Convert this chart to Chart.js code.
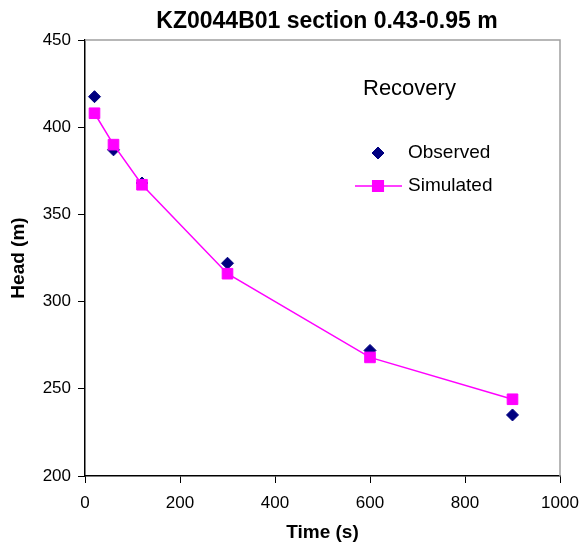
<!DOCTYPE html>
<html>
<head>
<meta charset="utf-8">
<script src="https://cdn.jsdelivr.net/npm/chart.js@4/dist/chart.umd.min.js"></script>
<style>
  html, body { margin: 0; padding: 0; background: #fff; }
  #wrap { width: 584px; height: 546px; }
</style>
</head>
<body>
<div id="wrap"><canvas id="myChart" width="584" height="546"></canvas></div>
<script>
// values
var timeS     = [20, 60, 120, 300, 600, 900];
var observed  = [417.5, 387, 368, 322, 272, 235];
var simulated = [408, 390, 367, 316, 268, 244];
var yTicks    = [200, 250, 300, 350, 400, 450];
var xTicks    = [0, 200, 400, 600, 800, 1000];

var chartTitle = 'KZ0044B01 section 0.43-0.95 m';
var legendTitle = 'Recovery';

var NAVY = '#000080';
var MAGENTA = '#FF00FF';
var FONT = "'Liberation Sans', Arial, sans-serif";

function toPoints(xs, ys) {
	return xs.map(function(x, i) { return {x: x, y: ys[i]}; });
}

// grey frame on top/right, title and the in-plot legend
var extras = {
	id: 'extras',
	beforeDatasetsDraw: function(chart) {
		var a = chart.chartArea, ctx = chart.ctx;
		ctx.save();
		ctx.strokeStyle = '#a0a0a0';
		ctx.lineWidth = 1.5;
		ctx.beginPath();
		ctx.moveTo(a.left, a.top);
		ctx.lineTo(a.right, a.top);
		ctx.lineTo(a.right, a.bottom);
		ctx.stroke();
		ctx.restore();
	},
	afterDraw: function(chart) {
		var ctx = chart.ctx;
		ctx.save();
		ctx.fillStyle = '#000';
		ctx.textBaseline = 'middle';
		ctx.textAlign = 'center';
		ctx.font = 'bold 23px ' + FONT;
		ctx.fillText(chartTitle, 327, 22);

		ctx.textAlign = 'left';
		ctx.font = '22px ' + FONT;
		ctx.fillText(legendTitle, 363, 89);

		ctx.font = '19px ' + FONT;
		var items = chart.data.datasets;
		var rows = [153, 186];
		items.forEach(function(ds, i) {
			var y = rows[i];
			if (ds.showLine) {
				ctx.strokeStyle = ds.borderColor;
				ctx.lineWidth = ds.borderWidth;
				ctx.beginPath();
				ctx.moveTo(355, y);
				ctx.lineTo(402, y);
				ctx.stroke();
			}
			Chart.helpers.drawPoint(ctx, {
				pointStyle: ds.pointStyle,
				radius: ds.pointRadius,
				rotation: 0,
				borderWidth: 1
			}, 378, y);
			ctx.fillStyle = ds.pointBackgroundColor;
			ctx.strokeStyle = ds.pointBorderColor;
			ctx.lineWidth = 1;
			ctx.fill();
			ctx.stroke();
			ctx.fillStyle = '#000';
			ctx.fillText(ds.label, 408, y);
		});
		ctx.restore();
	}
};

var ctx = document.getElementById('myChart');
var myChart = new Chart(ctx, {
	type: 'scatter',
	data: {
		datasets: [
			{
				label: 'Observed',
				data: toPoints(timeS, observed),
				showLine: false,
				pointStyle: 'rectRot',
				pointRadius: 6,
				pointBackgroundColor: NAVY,
				pointBorderColor: NAVY,
				pointBorderWidth: 1,
				order: 2
			},
			{
				label: 'Simulated',
				data: toPoints(timeS, simulated),
				showLine: true,
				borderColor: MAGENTA,
				borderWidth: 1.5,
				pointStyle: 'rect',
				pointRadius: 7.5,
				pointBackgroundColor: MAGENTA,
				pointBorderColor: MAGENTA,
				pointBorderWidth: 1,
				order: 1
			}
		]
	},
	options: {
		responsive: false,
		animation: false,
		devicePixelRatio: 1,
		layout: { padding: { left: 0, right: 24, top: 40, bottom: 0 } },
		plugins: {
			legend: { display: false },
			title: { display: false },
			tooltip: { enabled: false }
		},
		scales: {
			x: {
				type: 'linear',
				min: 0,
				max: 1000,
				afterFit: function(s) { s.height = 70; s.paddingRight = 0; },
				afterBuildTicks: function(s) { s.ticks = xTicks.map(function(v) { return {value: v}; }); },
				grid: { drawOnChartArea: false, drawTicks: true, tickLength: 7, color: '#000', lineWidth: 1 },
				border: { display: true, color: '#000', width: 1.5 },
				ticks: {
					color: '#000', padding: 10, maxRotation: 0,
					font: { family: FONT, size: 17 },
					callback: function(v) { return String(v); }
				},
				title: { display: true, text: 'Time (s)', color: '#000', padding: { top: 0, bottom: 2 }, font: { family: FONT, size: 19, weight: 'bold' } }
			},
			y: {
				type: 'linear',
				min: 200,
				max: 450,
				afterFit: function(s) { s.width = 85; },
				afterBuildTicks: function(s) { s.ticks = yTicks.map(function(v) { return {value: v}; }); },
				grid: { drawOnChartArea: false, drawTicks: true, tickLength: 7, color: '#000', lineWidth: 1 },
				border: { display: true, color: '#000', width: 1.5 },
				ticks: { color: '#000', padding: 7, font: { family: FONT, size: 17 } },
				title: { display: true, text: 'Head (m)', color: '#000', padding: { top: 7, bottom: 0 }, font: { family: FONT, size: 19, weight: 'bold' } }
			}
		}
	},
	plugins: [extras]
});
</script>
</body>
</html>
